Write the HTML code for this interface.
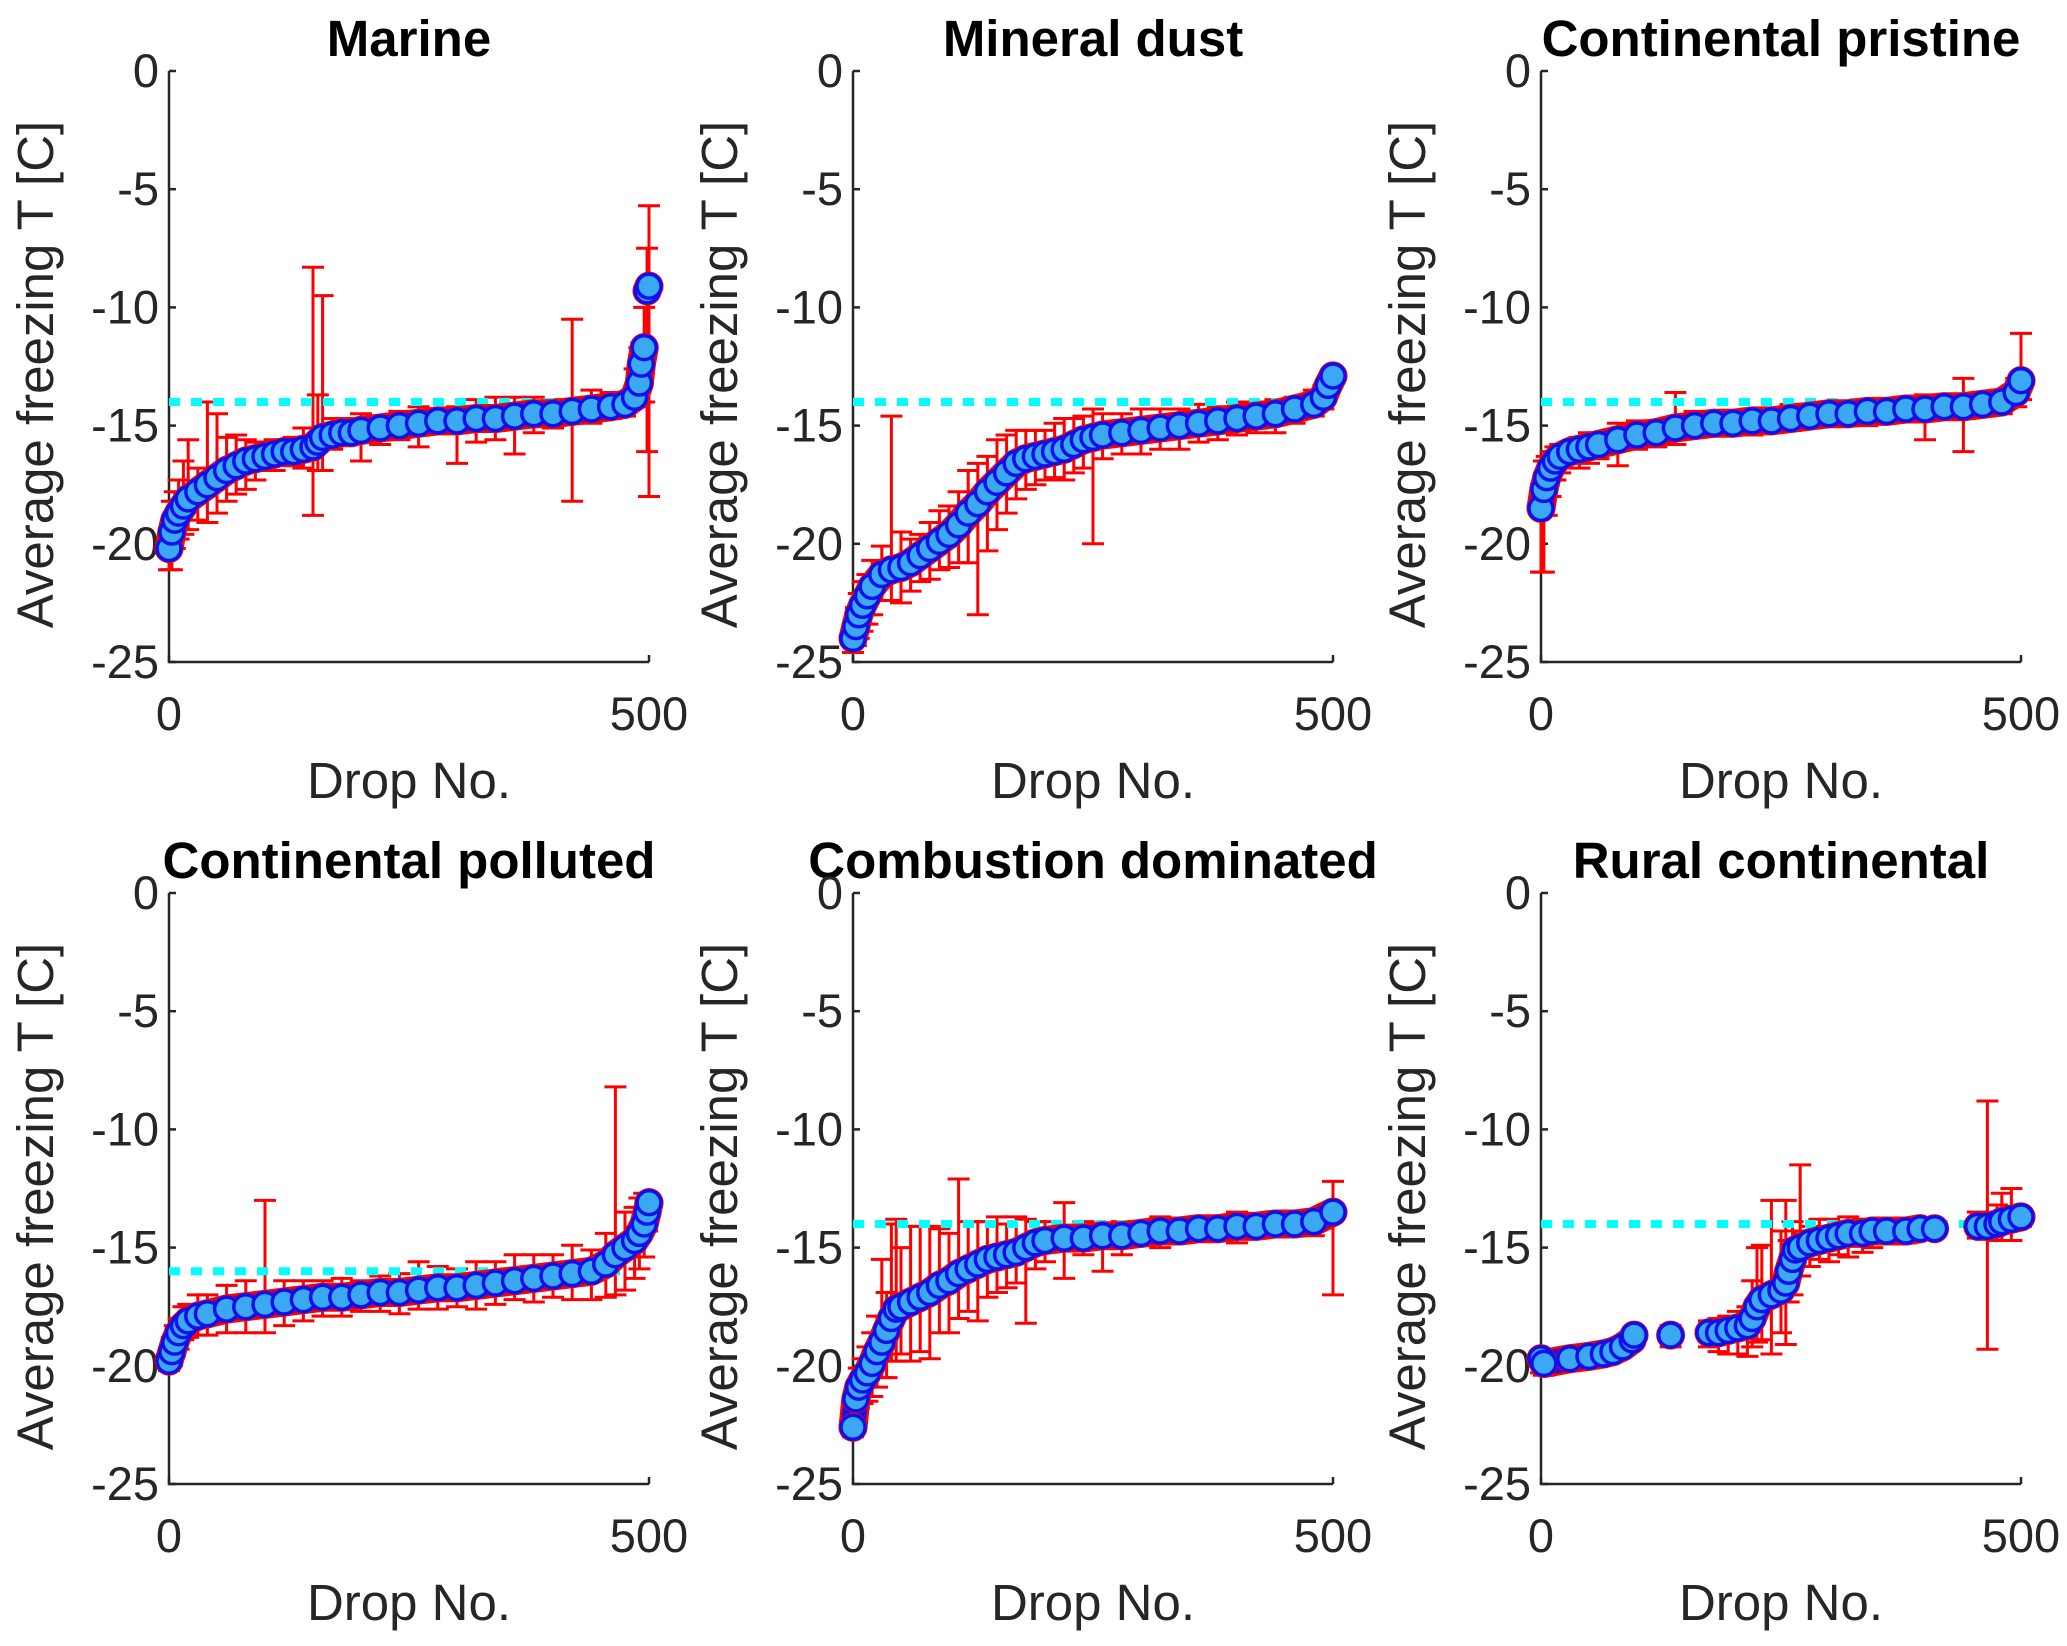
<!DOCTYPE html>
<html><head><meta charset="utf-8"><style>
html,body{margin:0;padding:0;background:#fff;}
svg{display:block;font-family:"Liberation Sans",Arial,sans-serif;}
</style></head><body>
<svg id="fig" width="2067" height="1646" viewBox="0 0 2067 1646" xmlns="http://www.w3.org/2000/svg"></svg>
<script>
// ---- data ----
const titles = ["Marine","Mineral dust","Continental pristine","Continental polluted","Combustion dominated","Rural continental"];
const thresholds = [-14,-14,-14,-16,-14,-14];
const thresholdEnd = [480,495,495,480,495,490];
const xTicks = [0,500];
const yTicks = [0,-5,-10,-15,-20,-25];

const marineX = [0,3,6,10,15,20,30,40,50,60,70,80,90,100,110,120,130,140,150,155,160,170,180,190,200,220,240,260,280,300,320,340,360,380,400,420,440,460,475,485,490,492,495,498,500];
const marineY = [-20.2,-19.5,-19.0,-18.7,-18.4,-18.1,-17.8,-17.5,-17.2,-16.9,-16.7,-16.5,-16.4,-16.3,-16.2,-16.1,-16.1,-16.0,-15.9,-15.7,-15.5,-15.4,-15.3,-15.3,-15.2,-15.1,-15.0,-14.9,-14.8,-14.8,-14.7,-14.7,-14.6,-14.5,-14.5,-14.4,-14.3,-14.2,-14.1,-13.8,-13.2,-12.4,-11.7,-9.3,-9.1];
const marineErrUp = [0.8,1.3,1.2,1.4,1.9,2.5,1.0,3.5,2.7,1.4,1.3,0.9,0.7,0.6,0.6,0.5,0.6,0.9,7.6,2.0,6.0,0.7,0.5,0.6,0.7,0.4,0.6,0.7,0.5,0.6,0.8,0.9,0.8,0.7,0.6,3.9,0.8,0.6,0.5,1.2,1.5,0.9,1.7,1.8,3.4];
const marineErrDn = [0.9,1.6,1.2,1.1,1.2,1.3,1.2,1.6,1.5,1.3,1.2,1.2,0.9,0.6,0.7,0.5,0.6,0.8,2.9,1.2,1.4,0.6,0.5,0.4,1.3,0.7,0.6,1.0,0.4,1.8,1.0,0.9,1.6,0.8,0.6,3.8,0.6,0.5,0.5,0.4,0.5,0.6,2.3,6.8,8.9];

const dustX = [0,3,6,10,15,20,30,40,50,60,70,80,90,100,110,120,130,140,150,160,170,180,190,200,210,220,230,240,250,260,280,300,320,340,360,380,400,420,440,460,480,490,495,500];
const dustY = [-24.0,-23.5,-23.0,-22.6,-22.2,-21.8,-21.3,-21.1,-21.0,-20.8,-20.5,-20.2,-19.9,-19.6,-19.2,-18.7,-18.3,-17.8,-17.4,-17.0,-16.6,-16.4,-16.3,-16.2,-16.1,-16.0,-15.8,-15.6,-15.5,-15.4,-15.3,-15.2,-15.1,-15.0,-14.9,-14.8,-14.7,-14.6,-14.5,-14.3,-14.1,-13.8,-13.3,-12.9];
const dustErrUp = [0.6,0.8,0.9,1.0,0.9,1.1,1.2,6.5,1.5,1.0,0.9,1.1,1.3,1.2,1.4,1.8,1.7,1.5,1.8,1.6,1.4,1.2,1.1,1.0,1.2,1.3,1.1,1.0,1.2,0.9,0.8,0.9,0.8,0.7,0.8,0.6,0.7,0.6,0.6,0.5,0.6,0.5,0.4,0.3];
const dustErrDn = [0.6,0.8,1.0,1.1,1.2,1.2,1.1,1.3,1.5,1.2,1.1,1.3,1.2,1.4,1.6,2.1,4.7,2.5,2.0,1.7,1.5,1.3,1.2,1.1,1.1,1.3,1.2,1.2,4.5,1.0,0.9,1.0,0.9,1.0,0.8,0.8,0.7,0.7,0.8,0.6,0.5,0.5,0.4,0.3];

const prisX = [0,3,6,10,15,20,30,40,50,60,80,100,120,140,160,180,200,220,240,260,280,300,320,340,360,380,400,420,440,460,480,495,500];
const prisY = [-18.5,-17.7,-17.2,-16.8,-16.5,-16.3,-16.1,-16.0,-15.9,-15.8,-15.6,-15.4,-15.3,-15.1,-15.0,-14.9,-14.9,-14.8,-14.8,-14.7,-14.6,-14.5,-14.5,-14.4,-14.4,-14.3,-14.3,-14.2,-14.2,-14.1,-14.0,-13.6,-13.1];
const prisErrUp = [1.0,1.2,0.9,0.7,0.6,0.5,0.4,0.5,0.6,0.5,0.7,0.6,0.5,1.5,0.6,0.5,0.4,0.5,0.4,0.6,0.5,0.4,0.5,0.4,0.5,0.4,0.6,0.4,1.2,0.4,0.5,0.6,2.0];
const prisErrDn = [2.7,3.5,1.6,1.2,0.8,0.7,0.5,0.8,0.7,0.6,1.1,0.6,0.6,0.7,0.5,0.5,0.4,0.6,0.4,0.5,0.5,0.5,0.5,0.6,0.4,0.5,1.3,0.4,1.9,0.5,0.5,0.6,0.8];

const pollX = [0,3,6,10,15,20,30,40,60,80,100,120,140,160,180,200,220,240,260,280,300,320,340,360,380,400,420,440,455,465,475,485,490,495,498,500];
const pollY = [-19.8,-19.4,-19.0,-18.6,-18.3,-18.1,-17.9,-17.8,-17.6,-17.5,-17.4,-17.3,-17.2,-17.1,-17.1,-17.0,-16.9,-16.9,-16.8,-16.7,-16.7,-16.6,-16.5,-16.4,-16.3,-16.2,-16.1,-16.0,-15.7,-15.3,-15.0,-14.7,-14.4,-14.0,-13.5,-13.1];
const pollErrUp = [0.5,0.6,0.7,0.6,0.8,0.7,0.9,0.8,1.0,1.1,4.4,0.9,0.8,0.7,0.8,0.6,0.7,0.8,1.2,0.9,0.8,1.0,0.9,1.1,1.0,0.9,1.2,0.9,1.3,7.1,1.5,1.4,1.5,1.3,0.6,0.3];
const pollErrDn = [0.4,0.6,0.6,0.7,0.6,0.7,0.8,0.9,1.0,1.1,1.2,1.0,0.9,0.8,0.8,0.7,0.8,0.9,0.8,0.9,0.8,1.0,0.9,0.8,1.0,0.9,1.1,1.2,1.4,1.7,1.8,1.6,1.5,1.4,0.8,0.4];

const combX = [0,3,6,10,15,20,25,30,35,40,45,50,60,70,80,90,100,110,120,130,140,150,160,170,180,190,200,220,240,260,280,300,320,340,360,380,400,420,440,460,480,500];
const combY = [-22.6,-21.4,-20.9,-20.6,-20.3,-19.9,-19.4,-19.0,-18.5,-18.0,-17.6,-17.5,-17.3,-17.1,-16.9,-16.6,-16.4,-16.1,-15.9,-15.7,-15.5,-15.4,-15.3,-15.2,-15.0,-14.8,-14.7,-14.6,-14.6,-14.5,-14.5,-14.4,-14.3,-14.3,-14.2,-14.2,-14.1,-14.1,-14.0,-14.0,-13.9,-13.5];
const combErrUp = [0.4,0.6,0.8,0.9,1.1,1.3,1.5,3.5,1.6,4.0,3.8,2.5,3.2,3.0,2.8,2.4,2.0,4.0,2.0,1.8,1.6,1.7,1.3,1.5,1.2,0.9,0.8,1.5,0.7,0.5,0.6,0.4,0.6,0.4,0.5,0.4,0.6,0.5,0.4,0.5,0.4,1.3];
const combErrDn = [0.4,0.7,0.9,1.0,1.2,1.4,1.5,1.5,2.0,1.8,2.2,2.0,2.5,2.3,2.8,2.0,2.2,1.9,1.8,2.4,1.6,1.5,1.4,1.3,3.2,1.1,0.9,1.7,0.7,1.5,0.8,0.5,0.7,0.5,0.5,0.4,0.7,0.5,0.5,0.5,0.6,3.5];

const ruralX = [0,3,30,50,65,75,85,95,97,135,175,185,195,205,215,220,225,230,240,250,255,258,262,265,270,280,290,300,310,320,335,345,360,380,395,410,455,465,475,480,490,500];
const ruralY = [-19.7,-19.9,-19.7,-19.6,-19.5,-19.4,-19.2,-18.9,-18.7,-18.7,-18.6,-18.6,-18.5,-18.4,-18.3,-18.0,-17.5,-17.2,-17.0,-16.8,-16.5,-16.0,-15.5,-15.1,-15.0,-14.8,-14.7,-14.6,-14.5,-14.4,-14.4,-14.3,-14.3,-14.3,-14.2,-14.2,-14.1,-14.1,-14.0,-13.9,-13.8,-13.7];
const ruralErrUp = [0.3,0.4,0.2,0.3,0.3,0.2,0.3,0.3,0.2,0.4,0.5,0.6,0.6,0.7,0.8,1.6,2.5,2.3,4.0,2.5,3.5,1.3,1.6,0.8,3.5,0.7,0.9,0.8,0.6,0.7,0.6,0.5,0.3,0.4,0.3,0.2,0.6,5.3,0.8,1.2,1.3,0.3];
const ruralErrDn = [0.6,0.5,0.3,0.3,0.2,0.2,0.3,0.2,0.2,0.5,0.6,0.8,1.0,1.1,1.3,1.2,1.5,1.7,2.5,1.8,2.6,1.3,1.5,1.1,1.2,1.0,0.8,1.0,0.8,1.0,0.8,0.7,0.5,0.5,0.4,0.3,0.5,5.2,0.7,0.8,0.9,0.4];

const panelX = [marineX,dustX,prisX,pollX,combX,ruralX];
const panelY = [marineY,dustY,prisY,pollY,combY,ruralY];
const panelUp = [marineErrUp,dustErrUp,prisErrUp,pollErrUp,combErrUp,ruralErrUp];
const panelDn = [marineErrDn,dustErrDn,prisErrDn,pollErrDn,combErrDn,ruralErrDn];
// drop numbers where the marker band is not continuous
const bandBreak = [[498],[],[],[],[],[97,135,175,410,455]];

// ---- layout ----
const NS = "http://www.w3.org/2000/svg";
const svg = document.getElementById("fig");
const colLeft = [169, 853, 1541];
const rowTop = [71, 893];
const W = 480, H = 591;
function mk(tag, attrs, parent){
  const e = document.createElementNS(NS, tag);
  for (const k in attrs) e.setAttribute(k, attrs[k]);
  (parent||svg).appendChild(e);
  return e;
}
for (let p = 0; p < 6; p++) {
  const L = colLeft[p%3], T = rowTop[Math.floor(p/3)];
  const xs = v => L + v/500*W;
  const ys = v => T + (0 - v)/25*H;
  const g = mk("g", {});
  
  
  const t = mk("text", {x: L+W/2, y: T-15, "text-anchor":"middle", "font-size":"51", "font-weight":"bold", fill:"#000"}, g);
  t.textContent = titles[p];
  
  
  const ax = mk("path", {d:`M${L} ${T} L${L} ${T+H} L${L+W} ${T+H}`, stroke:"#262626", "stroke-width":"2.5", fill:"none"}, g);
  
  
  yTicks.forEach(v => {
    mk("line", {x1:L, x2:L+7, y1:ys(v), y2:ys(v), stroke:"#262626","stroke-width":"2.5"}, g);
    const tl = mk("text", {x:L-10, y:ys(v)+16, "text-anchor":"end","font-size":"47", fill:"#262626"}, g);
    tl.textContent = v;
    
    
  });
  xTicks.forEach(v => {
    mk("line", {x1:xs(v), x2:xs(v), y1:T+H, y2:T+H-7, stroke:"#262626","stroke-width":"2.5"}, g);
    const tl = mk("text", {x:xs(v), y:T+H+68, "text-anchor":"middle","font-size":"47", fill:"#262626"}, g);
    tl.textContent = v;
    
    
  });
  const xl = mk("text", {x:L+W/2, y:T+H+136, "text-anchor":"middle","font-size":"51", fill:"#262626"}, g);
  xl.textContent = "Drop No.";
  
  
  const yl = mk("text", {x:0, y:0, transform:`translate(${L-116},${T+H/2+8}) rotate(-90)`, "text-anchor":"middle","font-size":"51", fill:"#262626"}, g);
  yl.textContent = "Average freezing T [C]";
  
  
  const X = panelX[p], Y = panelY[p], U = panelUp[p], D = panelDn[p];
  for (let i = 0; i < X.length; i++) {
    const x = xs(X[i]), y1 = ys(Y[i]+U[i]), y2 = ys(Y[i]-D[i]);
    const eb = mk("path", {d:`M${x} ${y1} L${x} ${y2} M${x-11} ${y1} L${x+11} ${y1} M${x-11} ${y2} L${x+11} ${y2}`, stroke:"#ff0000","stroke-width":"3", fill:"none"}, g);
    
    
  }
  const th = mk("line", {x1:xs(0), x2:xs(thresholdEnd[p]), y1:ys(thresholds[p]), y2:ys(thresholds[p]), stroke:"#00ffff","stroke-width":"8","stroke-dasharray":"11 11"}, g);
  
  
  let d = "";
  for (let i = 0; i < X.length; i++) {
    const brk = i === 0 || bandBreak[p].indexOf(X[i]) >= 0;
    d += (brk ? "M" : "L") + xs(X[i]) + " " + ys(Y[i]) + " ";
  }
  mk("path", {d:d, stroke:"#ff0000","stroke-width":"29", fill:"none","stroke-linecap":"round","stroke-linejoin":"round"}, g);
  mk("path", {d:d, stroke:"#1010ee","stroke-width":"24", fill:"none","stroke-linecap":"round","stroke-linejoin":"round"}, g);
  for (let i = 0; i < X.length; i++) {
    mk("circle", {cx:xs(X[i]), cy:ys(Y[i]), r:14.5, fill:"#ff0000"}, g);
  }
  for (let i = 0; i < X.length; i++) {
    const c = mk("circle", {cx:xs(X[i]), cy:ys(Y[i]), r:12, fill:"#3aa8f2", stroke:"#1010ee","stroke-width":"3.5"}, g);
    
    
  }
}
</script>
</body></html>
